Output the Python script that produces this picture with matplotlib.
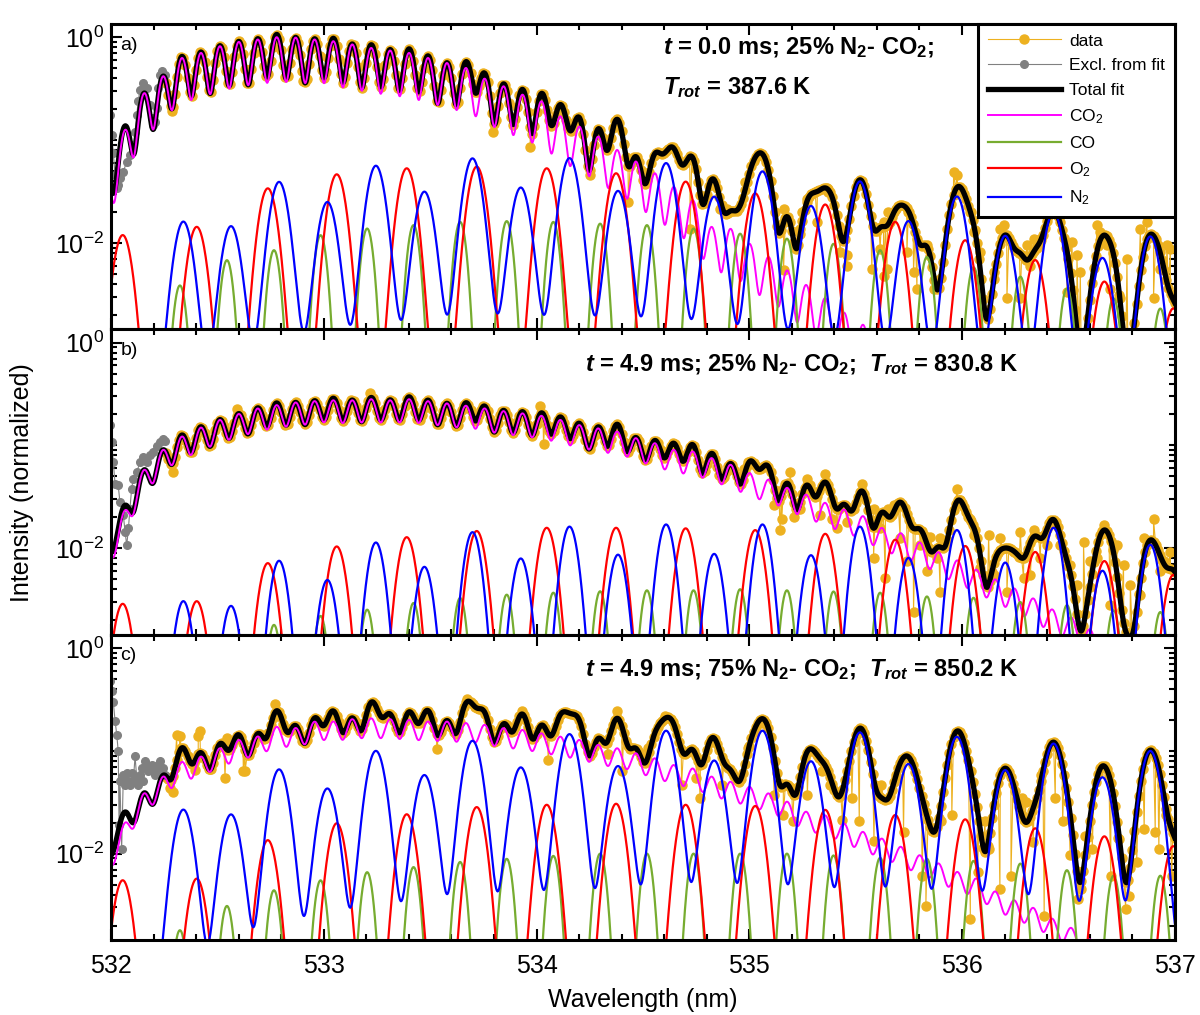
import numpy as np
import matplotlib
matplotlib.use('Agg')
from matplotlib import pyplot as plt
from matplotlib.ticker import MultipleLocator, FixedLocator, LogLocator, NullFormatter, LogFormatterSciNotation

##############################################################################
# DATA
##############################################################################

# line positions (nm), shared by the three panels
co2_nm = [531.979, 532.068, 532.157, 532.246, 532.334, 532.423, 532.512, 532.601, 532.690, 532.779,
          532.868, 532.957, 533.045, 533.134, 533.223, 533.312, 533.401, 533.490, 533.579, 533.668,
          533.756, 533.845, 533.934, 534.023, 534.112, 534.201, 534.290, 534.379, 534.467, 534.556,
          534.645, 534.734, 534.823, 534.912, 535.001, 535.090, 535.178, 535.267, 535.356, 535.445,
          535.534, 535.623, 535.712, 535.801, 535.889, 535.978, 536.067, 536.156, 536.245, 536.334,
          536.423, 536.512, 536.600, 536.689, 536.778, 536.867, 536.956, 537.045]
co_nm = [532.324, 532.545, 532.766, 532.985, 533.204, 533.422, 533.641, 533.860, 534.079, 534.299, 534.519,
         534.738, 534.957, 535.177, 535.396, 535.615, 535.835, 536.054, 536.274, 536.493, 536.712, 536.932]
o2_nm = [532.055, 532.403, 532.737, 533.061, 533.390, 533.719, 534.048, 534.374,
         534.701, 535.028, 535.357, 535.686, 536.015, 536.344, 536.669, 536.993]
n2_nm = [532.340, 532.564, 532.790, 533.017, 533.245, 533.473, 533.699, 533.926, 534.155, 534.383, 534.609,
         534.835, 535.062, 535.290, 535.520, 535.748, 535.976, 536.203, 536.430, 536.660, 536.885]

# peak heights, panel a) t = 0.0 ms, 25% N2
co2_a = [0.04, 0.126, 0.286, 0.417, 0.628, 0.703, 0.817, 0.90, 0.95, 1.0,
         0.99, 0.95, 0.914, 0.85, 0.786, 0.742, 0.703, 0.628, 0.561, 0.502,
         0.395, 0.333, 0.276, 0.238, 0.17, 0.135, 0.108, 0.080, 0.0618, 0.0475,
         0.035, 0.026, 0.0143, 0.0137, 0.0098, 0.0073, 0.0054, 0.0039, 0.0029, 0.0021,
         0.0016, 0.0012, 0.0009, 0.0007, 0.0005, 0.0004, 0.0003, 0.0002, 0.00015, 0.0001,
         0.0001, 0.0001, 0.0001, 0.0001, 0.0001, 0.0001, 0.0001, 0.0001]
co_a = [0.00386, 0.0068, 0.0085, 0.0119, 0.0138, 0.0149, 0.016, 0.0163, 0.016, 0.0154, 0.0149,
        0.0138, 0.0123, 0.011, 0.0098, 0.0085, 0.0073, 0.0058, 0.0047, 0.0036, 0.0029, 0.0023]
o2_a = [0.0119, 0.0143, 0.0339, 0.0464, 0.0531, 0.0551, 0.0531, 0.0475,
        0.0394, 0.0303, 0.0236, 0.016, 0.0106, 0.0068, 0.0042, 0.0023]
n2_a = [0.016, 0.0143, 0.039, 0.0246, 0.056, 0.031, 0.066, 0.034, 0.0664, 0.0315, 0.0594,
        0.0277, 0.0493, 0.0225, 0.0394, 0.016, 0.0281, 0.0115, 0.02, 0.007, 0.0115]

# panel b) t = 4.9 ms, 25% N2
co2_b = [0.009, 0.023, 0.057, 0.089, 0.12, 0.1466, 0.174, 0.199, 0.225, 0.2425,
         0.2573, 0.265, 0.27, 0.27, 0.277, 0.27, 0.277, 0.265, 0.252, 0.239,
         0.225, 0.212, 0.2015, 0.191, 0.174, 0.155, 0.144, 0.134, 0.1156, 0.1034,
         0.089, 0.086, 0.074, 0.0638, 0.053, 0.0457, 0.038, 0.0327, 0.0272, 0.0234,
         0.0202, 0.0155, 0.0138, 0.0112, 0.0090, 0.0075, 0.0061, 0.0049, 0.0040, 0.0032,
         0.0025, 0.0021, 0.0016, 0.0013, 0.001, 0.0008, 0.0006, 0.0005]
co_b = [0.0008, 0.0013, 0.0018, 0.0022, 0.00253, 0.00294, 0.00329, 0.00354, 0.0037, 0.00382, 0.0039,
        0.0039, 0.004, 0.0039, 0.0038, 0.0037, 0.0034, 0.0033, 0.003, 0.0028, 0.0025, 0.0024]
o2_b = [0.00288, 0.00305, 0.00716, 0.0104, 0.0128, 0.0147, 0.0158, 0.0158,
        0.0156, 0.015, 0.0138, 0.0121, 0.0105, 0.0092, 0.0075, 0.0055]
n2_b = [0.00305, 0.00273, 0.00754, 0.00488, 0.01135, 0.00655, 0.0143, 0.0079, 0.0162, 0.0086, 0.017,
        0.00875, 0.017, 0.0085, 0.0162, 0.008, 0.015, 0.0072, 0.0158, 0.006, 0.0108]

# panel c) t = 4.9 ms, 75% N2
co2_c = [0.007, 0.0183, 0.036, 0.0524, 0.0734, 0.0822, 0.0993, 0.12, 0.129, 0.162,
         0.156, 0.181, 0.181, 0.191, 0.195, 0.191, 0.188, 0.181, 0.181, 0.175,
         0.168, 0.156, 0.15, 0.139, 0.129, 0.12, 0.107, 0.0993, 0.0887, 0.0793,
         0.068, 0.0632, 0.0524, 0.0468, 0.0418, 0.036, 0.0298, 0.0237, 0.022, 0.0183,
         0.0151, 0.013, 0.0108, 0.0089, 0.0074, 0.0061, 0.0053, 0.0039, 0.0032, 0.0027,
         0.0021, 0.0017, 0.0013, 0.001, 0.0008, 0.0006, 0.0005, 0.0004]
co_c = [0.0018, 0.0031, 0.0044, 0.0055, 0.0066, 0.0074, 0.0083, 0.0089, 0.0095, 0.01, 0.01,
        0.01, 0.01, 0.01, 0.0096, 0.0091, 0.0089, 0.0085, 0.008, 0.0069, 0.0061, 0.0061]
o2_c = [0.0055, 0.0057, 0.0135, 0.0197, 0.0241, 0.0283, 0.0298, 0.0305,
        0.0298, 0.029, 0.0266, 0.0237, 0.0215, 0.0176, 0.0147, 0.0118]
n2_c = [0.0266, 0.0237, 0.0656, 0.0424, 0.0993, 0.0573, 0.1245, 0.068, 0.1445, 0.07, 0.156,
        0.0793, 0.156, 0.078, 0.15, 0.0734, 0.136, 0.064, 0.117, 0.0545, 0.0993]

# points excluded from the fit (grey)
excl_a_nm = [531.995, 532.003, 532.011, 532.019, 532.027, 532.034, 532.042, 532.058, 532.074, 532.089,
             532.105, 532.113, 532.121, 532.128, 532.136, 532.152, 532.168, 532.183, 532.191, 532.199,
             532.207, 532.215, 532.222, 532.230, 532.238, 532.254]
excl_a_val = [0.176, 0.112, 0.0742, 0.0457, 0.0339, 0.0365, 0.0424, 0.0494, 0.0618, 0.0717,
              0.090, 0.121, 0.176, 0.238, 0.309, 0.358, 0.320, 0.221, 0.163, 0.141,
              0.151, 0.204, 0.320, 0.432, 0.466, 0.432]
excl_b_nm = [531.995, 532.003, 532.011, 532.019, 532.034, 532.042, 532.058, 532.066, 532.074, 532.082,
             532.089, 532.097, 532.105, 532.121, 532.136, 532.152, 532.168, 532.183, 532.199, 532.215,
             532.230, 532.246, 532.254]
excl_b_val = [0.158, 0.107, 0.0686, 0.0424, 0.0408, 0.028, 0.021, 0.0145, 0.0107, 0.0157,
              0.0243, 0.038, 0.0475, 0.055, 0.0686, 0.077, 0.0686, 0.08, 0.086, 0.0995,
              0.107, 0.115, 0.111]
excl_c_nm = [531.995, 532.003, 532.011, 532.019, 532.027, 532.034, 532.038, 532.042, 532.050, 532.058,
             532.066, 532.074, 532.082, 532.089, 532.097, 532.105, 532.113, 532.121, 532.128, 532.136,
             532.144, 532.152, 532.160, 532.168, 532.176, 532.183, 532.191, 532.199, 532.207, 532.215,
             532.222, 532.230, 532.238, 532.246, 532.254]
excl_c_val = [0.48, 0.385, 0.296, 0.196, 0.144, 0.099, 0.019, 0.0505, 0.011, 0.0587,
              0.0468, 0.0609, 0.0505, 0.0468, 0.0609, 0.0505, 0.0887, 0.0545, 0.0468, 0.0587,
              0.068, 0.0505, 0.0793, 0.0735, 0.0632, 0.068, 0.0735, 0.0632, 0.0587, 0.068,
              0.0735, 0.0793, 0.0632, 0.068, 0.0587]

# measured points that stray from the fit (orange)
scat_a_nm = [532.285, 532.904, 533.797, 533.970, 534.252, 534.432, 534.722, 534.863, 534.895, 534.981,
             535.059, 535.161, 535.161, 535.208, 535.239, 535.247, 535.271, 535.318, 535.365, 535.372,
             535.427, 535.459, 535.459, 535.576, 535.615, 535.631, 535.631, 535.647, 535.654, 535.741,
             535.748, 535.772, 535.788, 535.835, 535.866, 535.960, 535.976, 536.039, 536.054, 536.086,
             536.086, 536.148, 536.180, 536.195, 536.211, 536.274, 536.305, 536.321, 536.336, 536.368,
             536.493, 536.517, 536.540, 536.556, 536.634, 536.650, 536.681, 536.697, 536.744, 536.775,
             536.838, 536.869, 536.900, 536.932, 536.963, 536.979, 536.994]
scat_a_val = [0.19, 0.372, 0.121, 0.0866, 0.0457, 0.0251, 0.0137, 0.0216, 0.0216, 0.0394,
              0.072, 0.0216, 0.0054, 0.0095, 0.0137, 0.020, 0.027, 0.016, 0.034, 0.0315,
              0.0082, 0.006, 0.0076, 0.0056, 0.0088, 0.016, 0.0048, 0.0056, 0.020, 0.0082,
              0.020, 0.0052, 0.0036, 0.0095, 0.0036, 0.049, 0.0457, 0.020, 0.0128, 0.0045,
              0.0082, 0.0052, 0.0137, 0.015, 0.0029, 0.0029, 0.0095, 0.006, 0.011, 0.011,
              0.0033, 0.0102, 0.0076, 0.0052, 0.015, 0.0128, 0.0095, 0.0036, 0.0029, 0.007,
              0.0137, 0.016, 0.0029, 0.0056, 0.0095, 0.0088, 0.0029]
scat_b_nm = [532.293, 532.591, 533.218, 534.017, 534.033, 534.973, 534.996, 535.114, 535.145, 535.153,
             535.192, 535.208, 535.239, 535.271, 535.286, 535.333, 535.357, 535.388, 535.412, 535.459,
             535.529, 535.584, 535.584, 535.615, 535.639, 535.654, 535.678, 535.709, 535.741, 535.772,
             535.803, 535.835, 535.850, 535.882, 535.897, 535.897, 535.976, 535.992, 536.039, 536.054,
             536.086, 536.125, 536.148, 536.180, 536.211, 536.242, 536.274, 536.289, 536.321, 536.336,
             536.368, 536.399, 536.462, 536.509, 536.540, 536.571, 536.603, 536.634, 536.665, 536.697,
             536.728, 536.759, 536.791, 536.838, 536.853, 536.900, 536.932, 536.947, 536.979]
scat_b_val = [0.055, 0.225, 0.326, 0.2425, 0.103, 0.0593, 0.0686, 0.0263, 0.015, 0.0194,
              0.055, 0.0202, 0.0243, 0.0475, 0.0408, 0.021, 0.053, 0.0194, 0.0157, 0.018,
              0.0424, 0.0243, 0.008, 0.0157, 0.0052, 0.0243, 0.0263, 0.0125, 0.0075, 0.0024,
              0.0107, 0.006, 0.013, 0.008, 0.0038, 0.0125, 0.0378, 0.0294, 0.0194, 0.0134,
              0.0064, 0.0134, 0.0055, 0.0125, 0.0038, 0.0093, 0.0145, 0.0052, 0.0055, 0.015,
              0.008, 0.0107, 0.0107, 0.0069, 0.0044, 0.0115, 0.0075, 0.008, 0.0169, 0.0028,
              0.0107, 0.0069, 0.0044, 0.0035, 0.0125, 0.0194, 0.006, 0.0075, 0.0093]
scat_c_nm = [532.277, 532.293, 532.309, 532.324, 532.395, 532.410, 532.418, 532.465, 532.536, 532.544,
             532.622, 532.630, 532.771, 533.531, 533.672, 533.931, 534.055, 534.334, 534.377, 534.403,
             534.525, 534.603, 534.682, 534.751, 534.769, 534.838, 534.873, 534.995, 535.064, 535.117,
             535.160, 535.204, 535.273, 535.343, 535.378, 535.438, 535.482, 535.517, 535.586, 535.621,
             535.691, 535.725, 535.812, 535.830, 535.865, 535.899, 535.952, 536.039, 536.073, 536.108,
             536.126, 536.178, 536.230, 536.282, 536.299, 536.334, 536.369, 536.386, 536.438, 536.473,
             536.508, 536.543, 536.560, 536.578, 536.612, 536.699, 536.734, 536.769, 536.786, 536.821,
             536.856, 536.908, 536.925, 536.960, 536.986]
scat_c_val = [0.0433, 0.04, 0.144, 0.14, 0.0656, 0.14, 0.156, 0.066, 0.0545, 0.134,
              0.063, 0.0632, 0.285, 0.103, 0.318, 0.245, 0.082, 0.0922, 0.245, 0.0632,
              0.107, 0.219, 0.0468, 0.0545, 0.0347, 0.124, 0.0468, 0.107, 0.188, 0.0373,
              0.0237, 0.0206, 0.0373, 0.0632, 0.0468, 0.0212, 0.0347, 0.0206, 0.0134, 0.0468,
              0.0545, 0.0164, 0.0061, 0.0031, 0.0175, 0.0206, 0.0237, 0.0023, 0.0066, 0.0206,
              0.0112, 0.0045, 0.0061, 0.0347, 0.0321, 0.0131, 0.0587, 0.0025, 0.0347, 0.0206,
              0.0098, 0.0036, 0.0045, 0.015, 0.0112, 0.0061, 0.0141, 0.0029, 0.0039, 0.0083,
              0.0175, 0.0164, 0.0112, 0.0237, 0.0061]

labels = ['a)', 'b)', 'c)']
note_a1 = r'$\mathit{t}$ = 0.0 ms; 25% N$_2$- CO$_2$;'
note_a2 = r'$\mathit{T}_{\mathit{rot}}$ = 387.6 K'
note_b = r'$\mathit{t}$ = 4.9 ms; 25% N$_2$- CO$_2$;  $\mathit{T}_{\mathit{rot}}$ = 830.8 K'
note_c = r'$\mathit{t}$ = 4.9 ms; 75% N$_2$- CO$_2$;  $\mathit{T}_{\mathit{rot}}$ = 850.2 K'

##############################################################################
# CODE
##############################################################################

plt.rcParams['font.family'] = ['Liberation Sans', 'DejaVu Sans']
plt.rcParams['mathtext.fontset'] = 'custom'
plt.rcParams['mathtext.rm'] = 'Liberation Sans'
plt.rcParams['mathtext.it'] = 'Liberation Sans:italic:bold'
plt.rcParams['mathtext.bf'] = 'Liberation Sans:bold'
plt.rcParams['mathtext.default'] = 'regular'

c_data = '#EDB120'
c_excl = '#808080'
c_co2 = '#FF00FF'
c_co = '#77AC30'
c_o2 = '#FF0000'
c_n2 = '#0000FF'


def band(x, centres, heights, fwhm, eta=0.0):
    # pseudo-Voigt lines summed at each wavelength
    d = (x[:, None] - np.asarray(centres)[None, :]) / fwhm
    g = np.exp(-4 * np.log(2) * d ** 2)
    lor = 1.0 / (1.0 + 4 * d ** 2)
    return ((1 - eta) * g + eta * lor) @ np.asarray(heights)


# (fwhm, eta) of each species in each panel
widths = [dict(co2=(0.057, 0.0), co=(0.06, 0.0), o2=(0.085, 0.03), n2=(0.085, 0.10)),
          dict(co2=(0.068, 0.0), co=(0.06, 0.0), o2=(0.085, 0.03), n2=(0.080, 0.05)),
          dict(co2=(0.070, 0.1), co=(0.06, 0.0), o2=(0.085, 0.03), n2=(0.090, 0.07))]
heights = [(co2_a, co_a, o2_a, n2_a), (co2_b, co_b, o2_b, n2_b), (co2_c, co_c, o2_c, n2_c)]
excl = [(excl_a_nm, excl_a_val), (excl_b_nm, excl_b_val), (excl_c_nm, excl_c_val)]
scat = [(scat_a_nm, scat_a_val), (scat_b_nm, scat_b_val), (scat_c_nm, scat_c_val)]

x_fit = np.linspace(532.0, 537.0, 2001)
x_pix = np.linspace(532.26, 537.0, 475)   # detector pixels used in the fit

fig = plt.figure(figsize=(12, 10.15), dpi=100)
gs = fig.add_gridspec(3, 1, left=0.0925, right=0.979, top=0.9765, bottom=0.074, hspace=0)
axes = [fig.add_subplot(gs[i]) for i in range(3)]

for i, ax in enumerate(axes):
    w = widths[i]
    h_co2, h_co, h_o2, h_n2 = heights[i]

    def model(x):
        return [band(x, co2_nm, h_co2, *w['co2']), band(x, co_nm, h_co, *w['co']),
                band(x, o2_nm, h_o2, *w['o2']), band(x, n2_nm, h_n2, *w['n2'])]

    comps = model(x_fit)
    total = sum(comps)

    dx = np.concatenate([x_pix, scat[i][0]])
    dy = np.concatenate([sum(model(x_pix)), scat[i][1]])
    order = np.argsort(dx, kind='stable')

    ax.plot(dx[order], dy[order], '-o', color=c_data, lw=0.8, ms=6.5, label='data')
    ax.plot(excl[i][0], excl[i][1], '-o', color=c_excl, lw=0.8, ms=5.5, label='Excl. from fit')
    ax.plot(x_fit, total, color='k', lw=3.8, label='Total fit')
    ax.plot(x_fit, comps[0], color=c_co2, lw=1.4, label='CO$_2$')
    ax.plot(x_fit, comps[1], color=c_co, lw=1.6, label='CO')
    ax.plot(x_fit, comps[2], color=c_o2, lw=1.6, label='O$_2$')
    ax.plot(x_fit, comps[3], color=c_n2, lw=1.6, label='N$_2$')

    ax.set_yscale('log')
    ax.set_xlim(532, 537)
    ax.set_ylim(1.45e-3, 1.35)
    ax.xaxis.set_major_locator(MultipleLocator(1))
    ax.xaxis.set_minor_locator(MultipleLocator(0.2))
    ax.yaxis.set_major_locator(FixedLocator([1e-2, 1]))
    ax.yaxis.set_major_formatter(LogFormatterSciNotation())
    ax.yaxis.set_minor_locator(LogLocator(base=10, subs=np.arange(1, 10)))
    ax.yaxis.set_minor_formatter(NullFormatter())
    ax.tick_params(which='both', direction='in', top=True, right=True, width=1.5, labelsize=18)
    ax.tick_params(which='major', length=8)
    ax.tick_params(which='minor', length=4.5)
    ax.tick_params(axis='x', pad=10)
    ax.tick_params(axis='y', pad=5)
    for s in ax.spines.values():
        s.set_linewidth(2.2)
    if i < 2:
        ax.tick_params(axis='x', labelbottom=False)

    ax.text(0.009, 0.93, labels[i], transform=ax.transAxes, fontsize=14, va='center', ha='left')

axes[0].text(0.519, 0.921, note_a1, transform=axes[0].transAxes, fontsize=17,
             fontweight='bold', va='center', ha='left')
axes[0].text(0.519, 0.79, note_a2, transform=axes[0].transAxes, fontsize=17,
             fontweight='bold', va='center', ha='left')
axes[1].text(0.446, 0.885, note_b, transform=axes[1].transAxes, fontsize=17,
             fontweight='bold', va='center', ha='left')
axes[2].text(0.446, 0.885, note_c, transform=axes[2].transAxes, fontsize=17,
             fontweight='bold', va='center', ha='left')

leg = axes[0].legend(loc='upper right', borderaxespad=0, fontsize=12.5, fancybox=False,
                     edgecolor='k', framealpha=1, handlelength=4.2, labelspacing=0.55,
                     borderpad=0.55, handletextpad=0.5)
leg.get_frame().set_linewidth(2.2)

axes[2].set_xlabel('Wavelength (nm)', fontsize=18, labelpad=7)
fig.text(0.018, 0.525, 'Intensity (normalized)', rotation=90, fontsize=18, va='center', ha='center')

fig.savefig('out.png', dpi=100)
